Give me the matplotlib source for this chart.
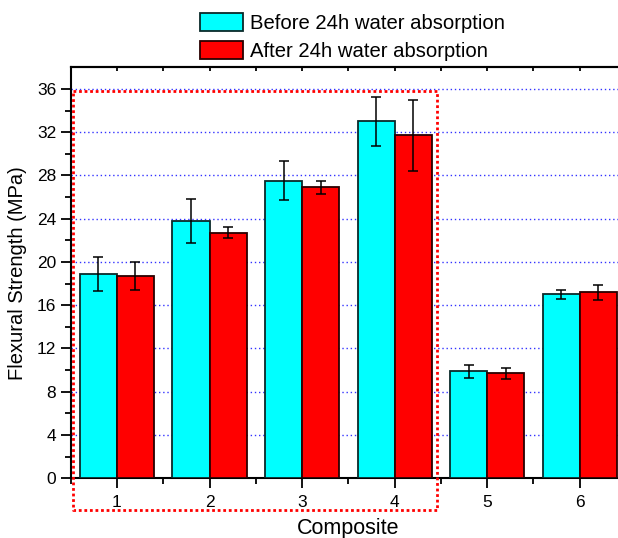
import matplotlib
matplotlib.use("Agg")
import matplotlib.pyplot as plt
import numpy as np

plt.rcParams['font.family'] = ['Liberation Sans', 'DejaVu Sans']

composites = ["1", "2", "3", "4", "5", "6"]
before = [18.9, 23.8, 27.5, 33.0, 9.9, 17.0]
before_err = [1.6, 2.0, 1.8, 2.3, 0.6, 0.4]
after = [18.7, 22.7, 26.9, 31.7, 9.7, 17.2]
after_err = [1.3, 0.5, 0.6, 3.3, 0.5, 0.7]
series_labels = ["Before 24h water absorption", "After 24h water absorption"]
yticks = [0, 4, 8, 12, 16, 20, 24, 28, 32, 36]

fig = plt.figure(figsize=(6.18, 5.38), dpi=100)
ax = fig.add_axes([0.1144, 0.111, 0.8985, 0.7639])

x = np.arange(1, len(composites) + 1)
w = 0.4
ekw = dict(ecolor='black', elinewidth=1.1, capsize=3.3, capthick=1.1)
b1 = ax.bar(x - w/2, before, w, color='#00FFFF', edgecolor='#0a2a2a', linewidth=1.3,
            yerr=before_err, error_kw=ekw, zorder=3, label=series_labels[0])
b2 = ax.bar(x + w/2, after, w, color='#FF0000', edgecolor='#2a0000', linewidth=1.3,
            yerr=after_err, error_kw=ekw, zorder=3, label=series_labels[1])

ax.set_xlim(0.5, 6.5)
ax.set_ylim(0, 38)
ax.set_xticks(x)
ax.set_xticklabels(composites)
ax.set_xticks(np.arange(0.5, 6.6, 1.0), minor=True)
ax.set_yticks(yticks)
ax.set_yticks(np.arange(2, 38, 4), minor=True)
ax.tick_params(axis='both', which='major', direction='out', length=7, width=1.3, labelsize=12.5)
ax.tick_params(axis='both', which='minor', direction='out', length=4, width=1.3)
ax.tick_params(axis='x', which='major', pad=5)

top = ax.secondary_xaxis('top')
top.set_xticks(x)
top.set_xticks(np.arange(0.5, 6.6, 1.0), minor=True)
top.tick_params(which='both', direction='in', length=3, width=1.3, labeltop=False)
top.spines['top'].set_linewidth(1.5)

ax.yaxis.grid(True, which='major', color='blue', linestyle=(0, (1, 2)), linewidth=1.0, alpha=0.8, zorder=0)
ax.set_axisbelow(True)
for s in ax.spines.values():
    s.set_linewidth(1.5)

# red dotted rectangle around composites 1-4
rx = [0.53, 4.46, 4.46, 0.53, 0.53]
ry = [35.85, 35.85, -2.93, -2.93, 35.85]
ax.plot(rx, ry, color='red', linestyle=(0, (1, 1)), linewidth=2.0, clip_on=False, zorder=5)

ax.set_xlabel("Composite", fontsize=15.5)
ax.xaxis.label.set_va('center')
ax.xaxis.set_label_coords(0.5, -0.121)
ax.set_ylabel("Flexural Strength (MPa)", fontsize=14.5)
ax.yaxis.label.set_va('center')
ax.yaxis.set_label_coords(-0.095, 0.5)

fig.legend(handles=[b1, b2], labels=series_labels, loc='upper left',
           bbox_to_anchor=(0.3236, 0.975), frameon=False, fontsize=14.6,
           handlelength=2.1, handleheight=0.95, handletextpad=0.35,
           labelspacing=0.4, borderpad=0.0, borderaxespad=0)

fig.savefig("out.png", dpi=100)
